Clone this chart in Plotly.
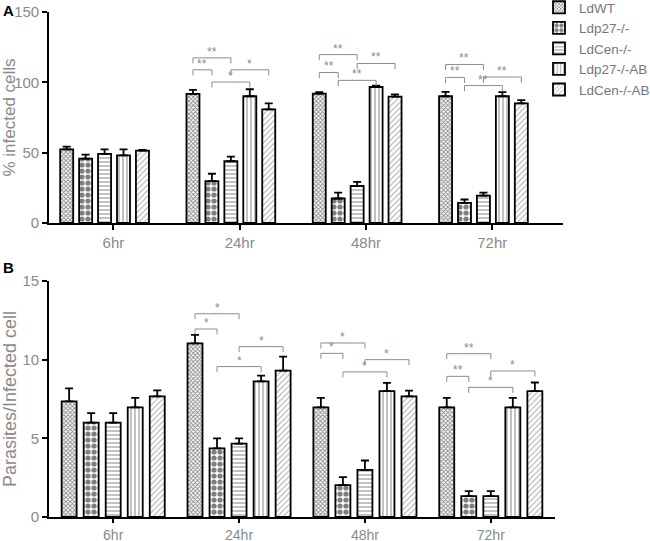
import plotly.graph_objects as go

W, H = 650, 541
FONT = "Liberation Sans, Arial"
TICK_GREY = "#8a8a8a"
TEXT_GREY = "#777777"
BRACKET_GREY = "#8c8c8c"

categories = ["6hr", "24hr", "48hr", "72hr"]
strains = ["LdWT", "Ldp27-/-", "LdCen-/-", "Ldp27-/-AB", "LdCen-/-AB"]

# panel A: % infected cells (mean, sem) per strain across time points
infected_ldwt = [52.3, 91.8, 92.0, 90.1]
infected_ldp27 = [45.8, 29.8, 17.4, 14.3]
infected_ldcen = [49.1, 43.9, 26.3, 19.5]
infected_ldp27_ab = [48.1, 90.1, 96.7, 90.1]
infected_ldcen_ab = [51.4, 80.8, 89.9, 85.0]
infected_err_ldwt = [2.0, 2.8, 1.0, 3.1]
infected_err_ldp27 = [2.8, 5.2, 4.2, 2.4]
infected_err_ldcen = [3.2, 3.3, 3.0, 2.1]
infected_err_ldp27_ab = [4.2, 5.0, 1.0, 3.0]
infected_err_ldcen_ab = [0.5, 4.2, 1.6, 2.3]

# panel B: parasites per infected cell
parasites_ldwt = [7.35, 11.04, 6.97, 6.97]
parasites_ldp27 = [6.0, 4.36, 2.03, 1.33]
parasites_ldcen = [6.0, 4.66, 2.99, 1.33]
parasites_ldp27_ab = [6.97, 8.62, 8.0, 6.97]
parasites_ldcen_ab = [7.67, 9.3, 7.67, 8.0]
parasites_err_ldwt = [0.83, 0.53, 0.6, 0.6]
parasites_err_ldp27 = [0.6, 0.64, 0.5, 0.32]
parasites_err_ldcen = [0.6, 0.34, 0.6, 0.32]
parasites_err_ldp27_ab = [0.6, 0.36, 0.53, 0.6]
parasites_err_ldcen_ab = [0.38, 0.89, 0.36, 0.55]

# significance brackets: (category, bar_from, bar_to, y level, label)
brackets_a = [
    (1, 0, 2, 117.4, "**"), (1, 0, 1, 108.9, "**"), (1, 1, 3, 100.2, "*"), (1, 2, 4, 108.9, "*"),
    (2, 0, 2, 119.7, "**"), (2, 0, 1, 107.0, "**"), (2, 1, 3, 101.4, "**"), (2, 2, 4, 113.4, "**"),
    (3, 0, 2, 112.7, "**"), (3, 0, 1, 103.5, "**"), (3, 1, 3, 97.7, "**"), (3, 2, 4, 103.8, "**"),
]
brackets_b = [
    (1, 0, 2, 12.92, "*"), (1, 0, 1, 11.95, "*"), (1, 1, 3, 9.56, "*"), (1, 2, 4, 10.83, "*"),
    (2, 0, 2, 11.06, "*"), (2, 0, 1, 10.4, "*"), (2, 1, 3, 9.22, "*"), (2, 2, 4, 10.0, "*"),
    (3, 0, 2, 10.38, "**"), (3, 0, 1, 8.94, "**"), (3, 1, 3, 8.24, "*"), (3, 2, 4, 9.28, "*"),
]

PATTERNS = [
    dict(shape="x", size=3, solidity=0.5, fgcolor="#111", bgcolor="white"),
    dict(shape=".", size=6, solidity=0.6, fgcolor="black", bgcolor="white"),
    dict(shape="-", size=4, solidity=0.3, fgcolor="#333", bgcolor="white"),
    dict(shape="|", size=4, solidity=0.3, fgcolor="#333", bgcolor="white"),
    dict(shape="/", size=4, solidity=0.25, fgcolor="#555", bgcolor="white"),
]

# per panel bar geometry (slot pitch, bar width) in category units
SLOT_A, WIDTH_A = 0.150, 0.103
SLOT_B, WIDTH_B = 0.175, 0.119
TICK_SHIFT_A = 0.07

panel_a = [
    (infected_ldwt, infected_err_ldwt), (infected_ldp27, infected_err_ldp27),
    (infected_ldcen, infected_err_ldcen), (infected_ldp27_ab, infected_err_ldp27_ab),
    (infected_ldcen_ab, infected_err_ldcen_ab),
]
panel_b = [
    (parasites_ldwt, parasites_err_ldwt), (parasites_ldp27, parasites_err_ldp27),
    (parasites_ldcen, parasites_err_ldcen), (parasites_ldp27_ab, parasites_err_ldp27_ab),
    (parasites_ldcen_ab, parasites_err_ldcen_ab),
]

fig = go.Figure()
xs = list(range(len(categories)))

for panel, (data, slot, width, xa, ya) in enumerate([
    (panel_a, SLOT_A, WIDTH_A, "x", "y"),
    (panel_b, SLOT_B, WIDTH_B, "x2", "y2"),
]):
    for k, (vals, errs) in enumerate(data):
        fig.add_trace(go.Bar(
            x=xs, y=vals, name=strains[k],
            xaxis=xa, yaxis=ya,
            width=width, offset=(k - 2) * slot - width / 2,
            marker=dict(color="white", pattern=PATTERNS[k],
                        line=dict(color="black", width=1.8)),
            error_y=dict(type="data", array=errs, arrayminus=[0] * len(errs),
                         symmetric=False, color="black", thickness=1.8, width=4),
            showlegend=(panel == 0),
        ))


def add_brackets(brackets, slot, drop, xa, ya):
    for cat, b1, b2, yv, label in brackets:
        x1 = cat + (b1 - 2) * slot
        x2 = cat + (b2 - 2) * slot
        fig.add_shape(type="path", xref=xa, yref=ya,
                      path=f"M {x1},{yv - drop} L {x1},{yv} L {x2},{yv} L {x2},{yv - drop}",
                      line=dict(color=BRACKET_GREY, width=1))
        fig.add_annotation(x=(x1 + x2) / 2, y=yv, xref=xa, yref=ya, text=label,
                           showarrow=False, yanchor="bottom", yshift=-3,
                           font=dict(family=FONT, size=12, color=BRACKET_GREY))


add_brackets(brackets_a, SLOT_A, 4.0, "x", "y")
add_brackets(brackets_b, SLOT_B, 0.35, "x2", "y2")

axis_common = dict(showline=True, linecolor="black", linewidth=1.6, ticks="outside",
                   tickcolor="black", tickwidth=1.6, ticklen=5, showgrid=False,
                   zeroline=False, automargin=False,
                   tickfont=dict(family=FONT, size=15, color=TICK_GREY))

fig.update_layout(
    width=W, height=H,
    barmode="overlay",
    plot_bgcolor="white", paper_bgcolor="white",
    margin=dict(l=0, r=0, t=0, b=0, autoexpand=False),
    font=dict(family=FONT, color=TEXT_GREY),
    xaxis=dict(domain=[49 / W, 563 / W], range=[-0.44, 3.63], anchor="y",
               tickvals=[i + TICK_SHIFT_A for i in xs], ticktext=categories, **axis_common),
    yaxis=dict(domain=[1 - 223 / H, 1 - 12 / H], range=[0, 150], anchor="x",
               tickvals=[0, 50, 100, 150],
               title=dict(text="% infected cells", standoff=8,
                          font=dict(family=FONT, size=17, color=TICK_GREY)),
               **axis_common),
    xaxis2=dict(domain=[49 / W, 555 / W], range=[-0.51, 3.51], anchor="y2",
                tickvals=xs, ticktext=categories,
                **{**axis_common, "ticklen": 4,
                   "tickfont": dict(family=FONT, size=14, color=TICK_GREY)}),
    yaxis2=dict(domain=[1 - 517 / H, 1 - 281 / H], range=[0, 15], anchor="x2",
                tickvals=[0, 5, 10, 15],
                title=dict(text="Parasites/Infected cell", standoff=8,
                           font=dict(family=FONT, size=18, color=TICK_GREY)),
                **axis_common),
    legend=dict(x=539 / W, y=1 + 8 / H, xanchor="left", yanchor="top",
                entrywidth=60, entrywidthmode="pixels",
                font=dict(family=FONT, size=13.5, color=TEXT_GREY),
                bgcolor="rgba(0,0,0,0)", tracegroupgap=0),
    annotations=list(fig.layout.annotations) + [
        dict(text="<b>A</b>", x=1 / W, y=1 - 0 / H, xref="paper", yref="paper",
             xanchor="left", yanchor="top", showarrow=False,
             font=dict(family=FONT, size=15, color="black")),
        dict(text="<b>B</b>", x=1 / W, y=1 - 257 / H, xref="paper", yref="paper",
             xanchor="left", yanchor="top", showarrow=False,
             font=dict(family=FONT, size=15, color="black")),
    ],
)

fig.write_html("out.html", config={"displayModeBar": False},
               post_script="document.body.style.margin='0';")
